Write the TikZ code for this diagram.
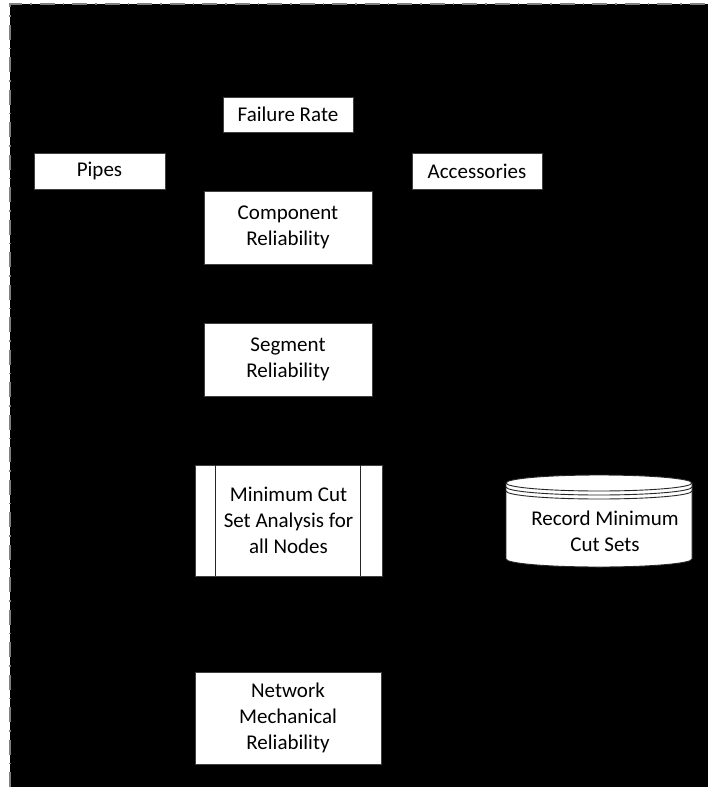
\documentclass[tikz,border=0pt]{standalone}
\usepackage{fontspec}
\setmainfont{Carlito}
\begin{document}
\begin{tikzpicture}[x=1pt,y=1pt,
  box/.style={draw=black!75, line width=0.6pt, fill=white, align=center,
    inner sep=0pt, font=\fontsize{21}{26}\selectfont},
  frameline/.style={draw=black!50, line width=1.2pt,
    dash pattern=on 15pt off 8pt on 1.5pt off 8pt},
  storeline/.style={draw=black!85, line width=0.9pt},
]
\useasboundingbox (0,0) rectangle (708,-787);
% dark canvas with its dash-dot frame on the top and left edges
\fill[black] (10,-4) rectangle (708,-787);
\draw[frameline] (10,-787) -- (10,-4) -- (708,-4);

% input boxes
\node[box, minimum width=130pt, minimum height=35pt] (rate) at (288,-114.5) {Failure Rate};
\node[box, minimum width=131pt, minimum height=36pt] (pipes) at (99.5,-171) {Pipes};
\node[box, minimum width=130pt, minimum height=36pt] (acc) at (477,-171) {Accessories};

% reliability chain
\node[box, minimum width=168pt, minimum height=73pt] (comp) at (288,-227.5) {Component\\Reliability};
\node[box, minimum width=168pt, minimum height=73pt] (seg) at (288,-359.5) {Segment\\Reliability};

% predefined process
\node[box, minimum width=187pt, minimum height=111pt] (mincut) at (288.5,-520.5)
  {Minimum Cut\\Set Analysis for\\all Nodes};
\draw[storeline] ([xshift=21pt]mincut.north west) -- ([xshift=21pt]mincut.south west);
\draw[storeline] ([xshift=-22pt]mincut.north east) -- ([xshift=-22pt]mincut.south east);

% stored data (stacked cylinder)
\filldraw[storeline, fill=white] (506,-483) -- (506,-559) arc (180:360:93 and 8)
  -- (692,-483) arc (0:180:93 and 8) -- cycle;
\draw[storeline] (506,-483) arc (180:360:93 and 8);
\draw[storeline] (506,-487) arc (180:360:93 and 8);
\draw[storeline] (506,-491) arc (180:360:93 and 8);
\node[align=center, font=\fontsize{21}{26}\selectfont] (store) at (605,-531)
  {Record Minimum\\Cut Sets};

% result
\node[box, minimum width=186pt, minimum height=92pt] (net) at (288,-718)
  {Network\\Mechanical\\Reliability};
\end{tikzpicture}
\end{document}
